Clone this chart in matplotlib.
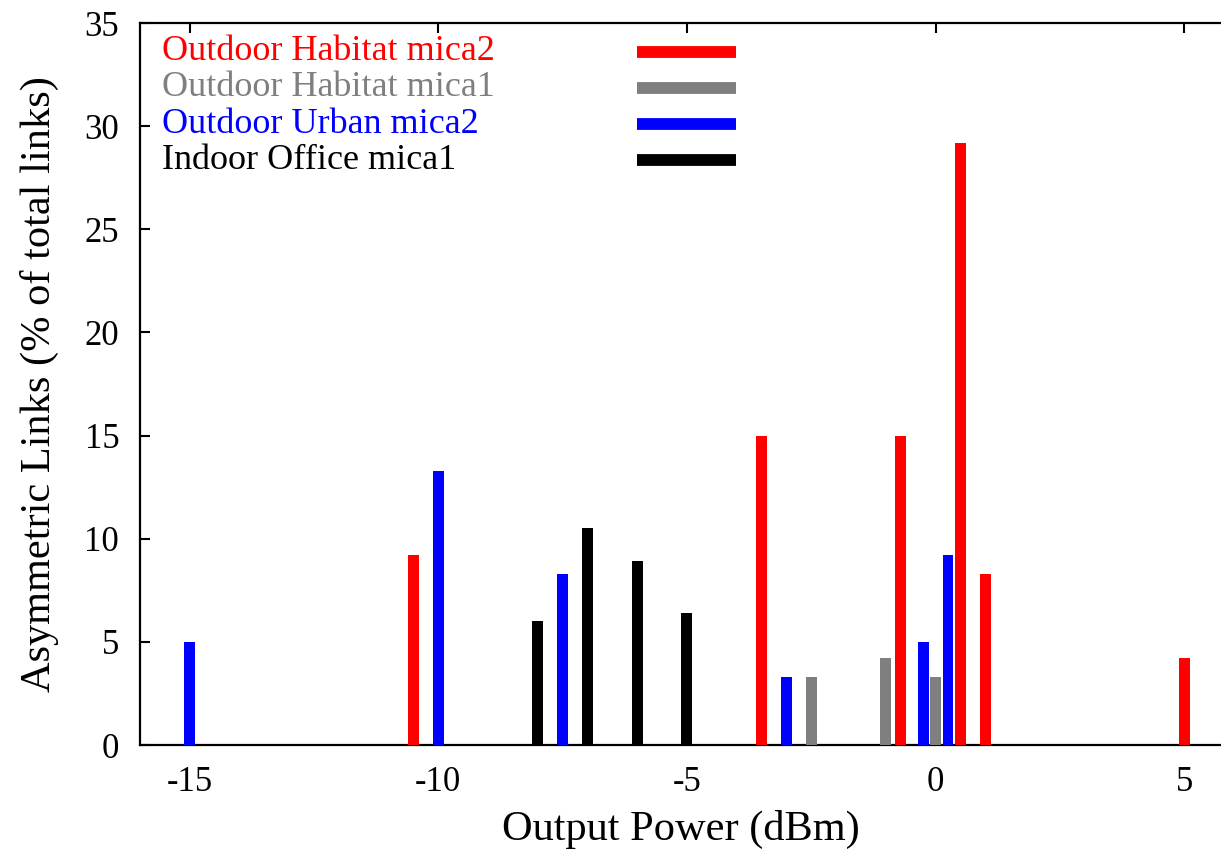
import matplotlib
matplotlib.use("Agg")
import matplotlib.pyplot as plt
import numpy as np

plt.rcParams['font.family'] = ['Liberation Serif', 'DejaVu Serif']

# series data: output power (dBm) vs asymmetric links (% of total links)
habitat_mica2_x = [-10.5, -3.5, -0.7, 0.5, 1, 5]
habitat_mica2_y = [9.2, 15, 15, 29.2, 8.3, 4.2]
habitat_mica1_x = [-2.5, -1, 0]
habitat_mica1_y = [3.3, 4.2, 3.3]
urban_mica2_x = [-15, -10, -7.5, -3, -0.25, 0.25]
urban_mica2_y = [5, 13.3, 8.3, 3.3, 5, 9.2]
office_mica1_x = [-8, -7, -6, -5]
office_mica1_y = [6, 10.5, 8.9, 6.4]

labels = ['Outdoor Habitat mica2', 'Outdoor Habitat mica1',
          'Outdoor Urban mica2', 'Indoor Office mica1']
colors = ['#ff0000', '#7f7f7f', '#0000ff', '#000000']
series = [(habitat_mica2_x, habitat_mica2_y), (habitat_mica1_x, habitat_mica1_y),
          (urban_mica2_x, urban_mica2_y), (office_mica1_x, office_mica1_y)]

xticks = [-15, -10, -5, 0, 5]
yticks = [0, 5, 10, 15, 20, 25, 30, 35]

fig = plt.figure(figsize=(12.21, 8.55), dpi=100)
ax = fig.add_axes([140/1221, 110/855, 1 - 140/1221, 722/855])

for (xs, ys), c in zip(series, colors):
    ax.bar(xs, ys, width=0.22, color=c, zorder=3)

ax.set_xlim(-16, 5.74)
ax.set_ylim(0, 35)
ax.set_xticks(xticks)
ax.set_yticks(yticks)
ax.set_xticklabels([str(t) for t in xticks])
ax.tick_params(direction='in', length=7, width=1.5, labelsize=25, pad=15,
               top=True, right=False)
ax.spines['right'].set_visible(False)
for s in ['left', 'top', 'bottom']:
    ax.spines[s].set_linewidth(1.6)

ax.set_xlabel('Output Power (dBm)', fontsize=30.5, labelpad=8)
ax.set_ylabel('Asymmetric Links (% of total links)', fontsize=30.5, labelpad=18)

# gnuplot-style key: coloured text on the left, sample line on the right
key_y = [0.960, 0.910, 0.860, 0.810]
for lab, c, ky in zip(labels, colors, key_y):
    ax.text(0.0204, ky, lab, color=c, fontsize=26, transform=ax.transAxes,
            ha='left', va='center')
    ax.plot([0.46, 0.551], [ky, ky], color=c, lw=8.5, transform=ax.transAxes,
            solid_capstyle='butt')

fig.savefig('out.png', dpi=100)
